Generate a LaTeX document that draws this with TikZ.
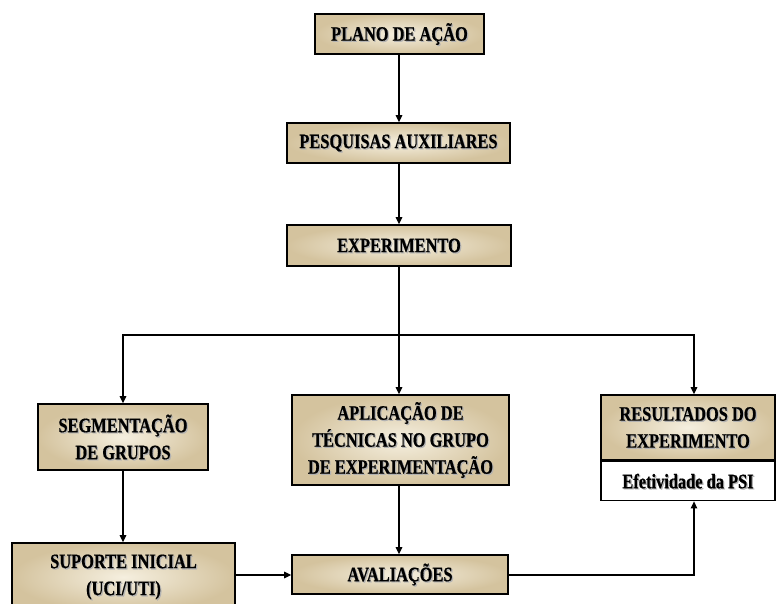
\documentclass[tikz,border=0pt]{standalone}
\usepackage{fontspec}
\newfontfamily\boxfont{Liberation Serif}[FakeStretch=0.8,FakeBold=0.6]
\usetikzlibrary{arrows.meta}
\definecolor{boxin}{HTML}{F5EFDF}
\definecolor{boxout}{HTML}{D4C39E}
\tikzset{
  box/.style={draw=black, line width=1.6pt, inner color=boxin, outer color=boxout, inner sep=0pt},
  plainbox/.style={draw=black, line width=1.6pt, fill=white, inner sep=0pt},
  txt/.style={font=\boxfont\bfseries\fontsize{20.5}{27}\selectfont, align=center, inner sep=0pt},
  shade txt/.style={txt, text=black!30},
  link/.style={draw=black, line width=1.2pt},
  arr/.style={link, -{Triangle[length=7pt,width=6.5pt]}}
}
% text with a soft grey drop shadow
\newcommand\shadowlabel[2]{%
  \node[shade txt] at ([shift={(1.2,1.2)}]#1) {#2};
  \node[txt] at (#1) {#2};}
\begin{document}
\begin{tikzpicture}[x=1pt, y=-1pt]
\useasboundingbox (0,0) rectangle (777,604);

% boxes
\node[box, minimum width=169pt, minimum height=40pt] (plano) at (399.5,34) {};
\node[box, minimum width=223pt, minimum height=40pt] (pesq) at (398.5,143) {};
\node[box, minimum width=224pt, minimum height=41pt] (exper) at (399,245.5) {};
\node[box, minimum width=170pt, minimum height=66pt] (segm) at (123,437) {};
\node[box, minimum width=217pt, minimum height=90pt] (aplic) at (400.5,440) {};
\node[box, minimum width=174pt, minimum height=65pt] (res) at (688,427.5) {};
\node[plainbox, minimum width=174pt, minimum height=39pt, anchor=north] (efet) at (res.south) {};
\node[box, minimum width=223pt, minimum height=68pt] (sup) at (123.5,577) {};
\node[box, minimum width=216pt, minimum height=39pt] (aval) at (400,574.5) {};

% labels
\shadowlabel{plano.center}{PLANO DE AÇÃO}
\shadowlabel{pesq.center}{PESQUISAS AUXILIARES}
\shadowlabel{exper.center}{EXPERIMENTO}
\shadowlabel{segm.center}{SEGMENTAÇÃO\\DE GRUPOS}
\shadowlabel{aplic.center}{APLICAÇÃO DE\\TÉCNICAS NO GRUPO\\DE EXPERIMENTAÇÃO}
\shadowlabel{res.center}{RESULTADOS DO\\EXPERIMENTO}
\shadowlabel{efet.center}{Efetividade da PSI}
\shadowlabel{sup.center}{SUPORTE INICIAL\\(UCI/UTI)}
\shadowlabel{aval.center}{AVALIAÇÕES}

% connectors
\coordinate (split) at (399,335);
\draw[arr] (plano.south -| 399,0) -- (pesq.north -| 399,0);
\draw[arr] (pesq.south -| 399,0) -- (exper.north -| 399,0);
\draw[link] (exper.south -| split) -- (split);
\draw[arr] (split) -| (segm.north);
\draw[arr] (split) -- (aplic.north -| split);
\draw[arr] (split) -| (res.north -| 694,0);
\draw[arr] (segm.south) -- (sup.north -| segm.south);
\draw[arr] (aplic.south -| split) -- (aval.north -| split);
\draw[arr] (sup.east |- 0,575) -- (aval.west |- 0,575);
\draw[arr] (aval.east |- 0,575) -| (efet.south -| 694,0);
\end{tikzpicture}
\end{document}
